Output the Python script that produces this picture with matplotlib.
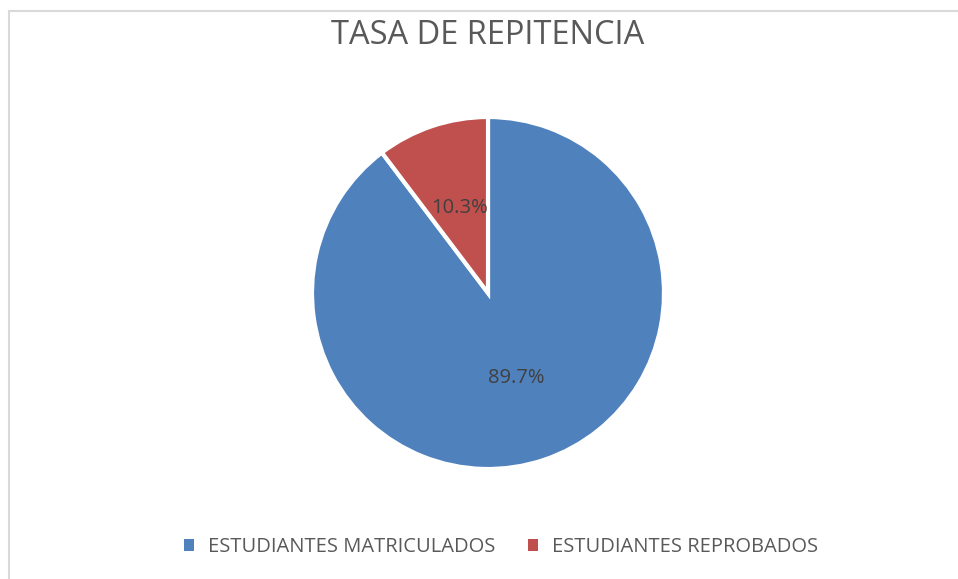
import matplotlib
matplotlib.use("Agg")
import matplotlib.pyplot as plt
from matplotlib.patches import Rectangle, Patch

categories = ["ESTUDIANTES MATRICULADOS", "ESTUDIANTES REPROBADOS"]
values = [89.7, 10.3]
colors = ["#4F81BD", "#C0504D"]
title = "TASA DE REPITENCIA"

plt.rcParams['font.family'] = ['Open Sans', 'DejaVu Sans']

W, H = 958, 579
fig = plt.figure(figsize=(W / 100, H / 100), dpi=100)
fig.patch.set_facecolor("white")

# outer border (chart area)
fig.add_artist(Rectangle((9 / W, -0.05), 1.2, (H - 11) / H + 0.05,
                         transform=fig.transFigure, fill=False,
                         edgecolor="#D9D9D9", linewidth=1.5))

cx, cy, r = 488, 293, 176
ax = fig.add_axes([(cx - r) / W, (H - cy - r) / H, 2 * r / W, 2 * r / H])
wedges, texts, autotexts = ax.pie(
    values, colors=colors, startangle=90, counterclock=False,
    autopct=lambda p: f"{p:.1f}%", pctdistance=0.51,
    wedgeprops=dict(edgecolor="white", linewidth=3),
    textprops=dict(color="#404040", fontsize=14.5))
ax.set_xlim(-1, 1)
ax.set_ylim(-1, 1)
ax.set_aspect("equal")
ax.axis("off")

fig.text(cx / W, 1 - 36 / H, title, ha="center", va="center",
         fontsize=23.5, color="#595959")

handles = [Patch(facecolor=c, edgecolor="none") for c in colors]
leg = fig.legend(handles, categories, loc="center", bbox_to_anchor=(501 / W, 1 - 547 / H),
                 ncol=2, frameon=False, fontsize=14.5, handlelength=0.5, handleheight=0.5,
                 handletextpad=0.7, columnspacing=1.6)
for t in leg.get_texts():
    t.set_color("#595959")

fig.savefig("out.png", dpi=100, facecolor="white")
